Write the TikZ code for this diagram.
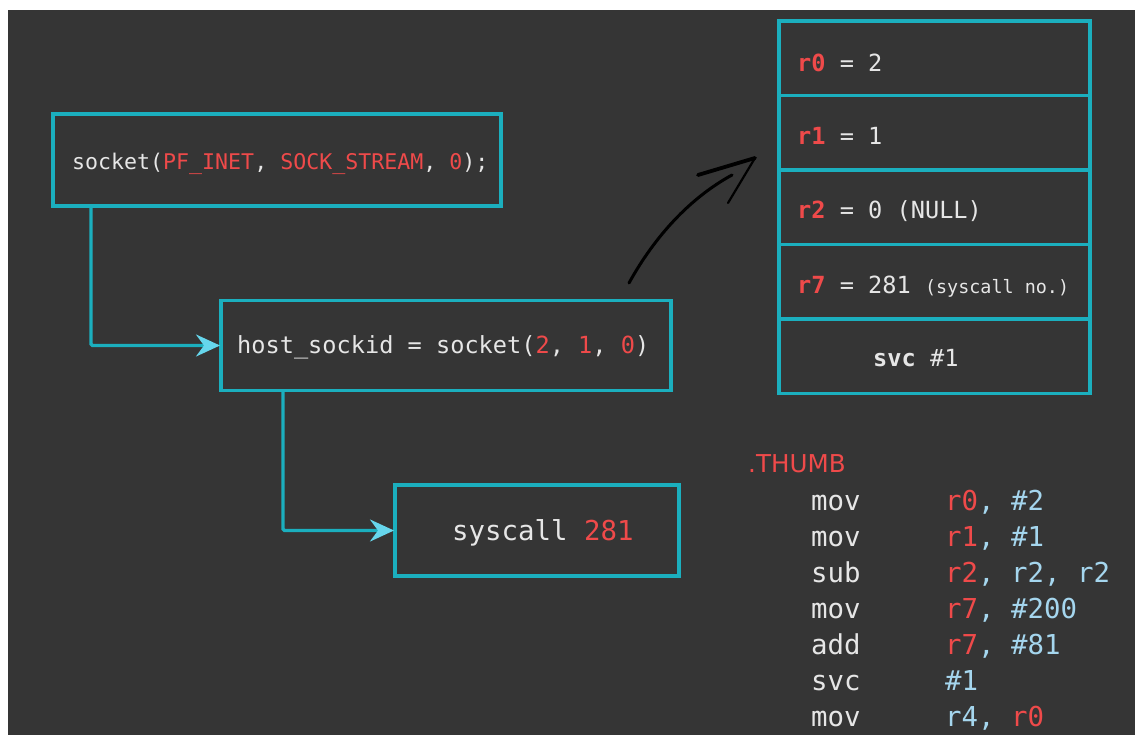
\documentclass[tikz,border=0pt]{standalone}
\usepackage{fontspec}
\newfontfamily\mono{DejaVu Sans Mono}
\newfontfamily\dirfont{DejaVu Sans}
\usetikzlibrary{arrows.meta,calc}

\definecolor{bgdark}{HTML}{353535}
\definecolor{boxteal}{HTML}{1BAFBE}
\definecolor{tipcyan}{HTML}{66D6EC}
\definecolor{txtwhite}{HTML}{E6E6E6}
\definecolor{regred}{HTML}{EF4A4A}
\definecolor{opblue}{HTML}{A5D6EE}

\newcommand{\rr}[1]{\textcolor{regred}{#1}}
\newcommand{\nb}[1]{\textcolor{opblue}{#1}}
\newcommand{\fs}[1]{\fontsize{#1}{#1}\selectfont}

\begin{document}
\begin{tikzpicture}[x=1pt,y=-1pt,
  box/.style={draw=boxteal, line width=3.2pt, rectangle, inner sep=0pt,
              outer sep=0pt, anchor=north west},
  regrow/.style={box, minimum width=311pt, minimum height=74.5pt},
  code/.style={anchor=base west, inner sep=0pt, text=txtwhite, font=\mono},
  conn/.style={draw=boxteal, line width=3.2pt, rounded corners=1.5pt,
               -{Stealth[length=24pt, width=22pt, inset=8pt, color=tipcyan]},
               shorten >=1pt},
  sketch/.style={draw=black, line cap=round}]

\useasboundingbox (0,0) rectangle (1135,735);
\fill[white] (0,0) rectangle (1135,735);
\fill[bgdark] (8,10) rectangle (1135,735);

% call chain boxes
\node[box, minimum width=448pt, minimum height=92pt] (sockbox) at (53,114) {};
\node[code, font=\mono\fs{21.6}] (socktxt) at (72,169.3)
  {socket(\rr{PF\_INET}, \rr{SOCK\_STREAM}, \rr{0});};

\node[box, minimum width=450pt, minimum height=90pt] (hostbox) at (221,300.5) {};
\node[code, font=\mono\fs{23.6}] (hosttxt) at (237,353.3)
  {host\_sockid = socket(\rr{2}, \rr{1}, \rr{0})};

\node[box, minimum width=284pt, minimum height=91pt] (callbox) at (395,485) {};
\node[code, font=\mono\fs{27.4}] (calltxt) at (452,540)
  {syscall \rr{281}};

% connectors
\draw[conn] ($(sockbox.south west)+(38,0)$) |- (hostbox.west);
\draw[conn] ($(hostbox.south west)+(62,0)$) |- (callbox.west);

% register table
\node[regrow] (rowa) at (779,21) {};
\node[regrow] (rowb) at (779,95.5) {};
\node[regrow] (rowc) at (779,170) {};
\node[regrow] (rowd) at (779,244.5) {};
\node[regrow] (rowe) at (779,319) {};

\node[code, font=\mono\fs{23.6}] (ra) at (797,71.7) {\textbf{\rr{r0}} = 2};
\node[code, font=\mono\fs{23.6}] (rb) at (797,145) {\textbf{\rr{r1}} = 1};
\node[code, font=\mono\fs{23.6}] (rc) at (797,219) {\textbf{\rr{r2}} = 0 (NULL)};
\node[code, font=\mono\fs{23.6}] (rd) at (797,293.3)
  {\textbf{\rr{r7}} = 281 {\fs{18.4}(syscall no.)}};
\node[code, font=\mono\fs{23.6}] (re) at (873,366.7) {\textbf{svc} \#1};

% hand-drawn arrow towards the registers
\coordinate (curvestart) at (629,283);
\coordinate (curveend) at (732,175);
\coordinate (curvetip) at (755,158);
\coordinate (barbup) at (698,175);
\coordinate (barblow) at (728,203);
\draw[sketch, line width=3pt] (curvestart) .. controls (655,236) and (690,198) .. (curveend);
\draw[sketch, line width=3.8pt] (barbup) -- (curvetip);
\draw[sketch, line width=2.2pt] (curvetip) -- (barblow);

% assembly listing
\node[anchor=base west, inner sep=0pt, text=regred, font=\dirfont\fs{24.6}]
  (thumb) at (748,472.3) {.THUMB};
\foreach \i/\mn/\op in {0/mov/{\rr{r0}, \nb{\#2}},
                        1/mov/{\rr{r1}, \nb{\#1}},
                        2/sub/{\rr{r2}, \nb{r2, r2}},
                        3/mov/{\rr{r7}, \nb{\#200}},
                        4/add/{\rr{r7}, \nb{\#81}},
                        5/svc/{\nb{\#1}},
                        6/mov/{\nb{r4}, \rr{r0}}} {
  \node[code, font=\mono\fs{27.4}] (mn\i) at (811,510+36.1*\i) {\mn};
  \node[code, font=\mono\fs{27.4}, text=opblue] (op\i) at (945,510+36.1*\i) {\op};
}
\end{tikzpicture}
\end{document}
